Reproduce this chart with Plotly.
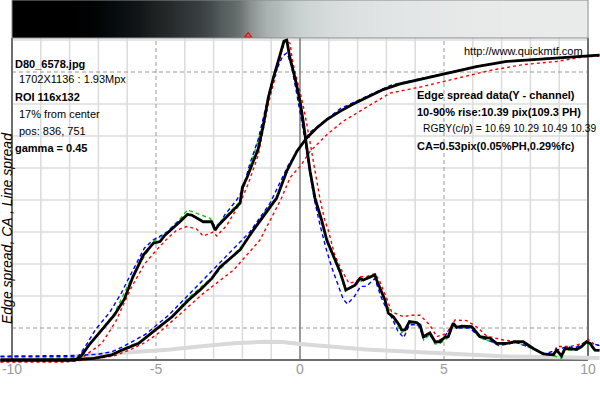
import plotly.graph_objects as go

# ---------------- data ----------------
esf_x = [-10.4, -10, -8, -7.16, -6.53, -6.18, -5.6, -5.02, -4.44, -3.87, -3.47, -3.06, -2.78, -2.08, -1.62,
         -1.16, -0.81, -0.46, -0.11, 0.23, 0.58, 0.93, 1.39, 1.85, 2.31, 2.89, 3.45, 4.28, 5.44, 6.13, 7.18,
         8.33, 9.49, 10, 10.4]
esf_y = [0, 0, 0, 0.005, 0.016, 0.031, 0.052, 0.094, 0.135, 0.1875, 0.219, 0.255, 0.29, 0.344, 0.406,
         0.463, 0.506, 0.59, 0.652, 0.694, 0.725, 0.751, 0.777, 0.8, 0.819, 0.845, 0.862, 0.879, 0.902, 0.917,
         0.933, 0.94, 0.947, 0.951, 0.953]

esf_red_x = [-10.4, -8.1, -7.5, -6.9, -6.42, -5.9, -5.37, -4.9, -4.21, -3.4, -2.31, -1.39, -0.64, -0.35, 0.0,
             0.35, 0.93, 1.5, 2.31, 3.125, 4.28, 5.44, 6.6, 7.75, 8.91, 9.84, 10.4]
esf_red_y = [-0.006, -0.006, 0.0, 0.006, 0.014, 0.032, 0.055, 0.085, 0.14, 0.205, 0.281, 0.375, 0.506, 0.569,
             0.605, 0.652, 0.704, 0.746, 0.79, 0.834, 0.855, 0.879, 0.905, 0.923, 0.933, 0.947, 0.95]

esf_blue_x = [-10.4, -7.8, -7.0, -6.53, -6.18, -5.37, -4.56, -3.63, -2.78, -1.74, -1.04, -0.4, 0.35, 1.39, 2.31,
              3.2, 4.28, 5.44, 6.13, 7.18, 8.33, 9.49, 10.4]
esf_blue_y = [0.012, 0.014, 0.018, 0.026, 0.04, 0.08, 0.14, 0.225, 0.305, 0.40, 0.49, 0.61, 0.712, 0.785,
              0.824, 0.86, 0.881, 0.903, 0.917, 0.933, 0.94, 0.947, 0.953]

esf_green_x = [-10.4, -7.2, -6.5, -6.2, -5.6, -5.0, -4.4, -3.9, -3.5, -3.0, -2.1, -1.6, -1.2, -0.8, -0.45, -0.1,
               0.25, 0.6, 0.95, 1.4, 1.85, 2.3, 2.9, 3.5, 4.3, 5.4, 6.1, 7.2, 8.3, 9.5, 10.4]
esf_green_y = [0.0, 0.006, 0.018, 0.033, 0.055, 0.097, 0.14, 0.192, 0.222, 0.262, 0.348, 0.41, 0.466, 0.51,
               0.593, 0.655, 0.697, 0.727, 0.753, 0.779, 0.802, 0.821, 0.847, 0.866, 0.881, 0.903, 0.918, 0.934,
               0.941, 0.948, 0.954]

lsf_x = [-10.4, -7.8, -7.6, -7.3, -6.94, -6.45, -6.1, -5.8, -5.44, -5.09, -4.86, -4.69, -4.17, -3.91, -3.76,
         -3.59, -3.36, -3.07, -2.95, -2.84, -2.55, -2.08, -2.0, -1.85, -1.45, -1.27, -1.1, -0.93, -0.69, -0.56,
         -0.46, -0.35, -0.17, 0.0, 0.11, 0.23, 0.35, 0.52, 0.75, 0.93, 1.16, 1.39, 1.59, 1.91, 2.08, 2.2, 2.6,
         2.66, 2.95, 3.07, 3.24, 3.45, 3.53, 3.65, 3.8, 4.05, 4.17, 4.28, 4.51, 4.69, 4.86, 5.03, 5.15, 5.32,
         5.44, 5.61, 5.96, 6.25, 6.6, 6.83, 7.18, 7.47, 7.75, 8.1, 8.45, 8.8, 8.91, 9.08, 9.2, 9.61, 9.78, 9.95,
         10.07, 10.24, 10.4]
lsf_y = [0.0, 0.0, 0.012, 0.05, 0.088, 0.14, 0.19, 0.26, 0.328, 0.365, 0.37, 0.39, 0.432, 0.455, 0.453,
         0.443, 0.432, 0.432, 0.406, 0.42, 0.448, 0.49, 0.54, 0.568, 0.66, 0.735, 0.82, 0.88, 0.954, 0.996,
         1.0, 0.944, 0.88, 0.81, 0.746, 0.67, 0.59, 0.506, 0.4375, 0.375, 0.323, 0.276, 0.219, 0.234, 0.255,
         0.25, 0.266, 0.25, 0.1875, 0.146, 0.135, 0.109, 0.094, 0.094, 0.12, 0.117, 0.109, 0.073, 0.085, 0.057,
         0.057, 0.071, 0.073, 0.115, 0.102, 0.106, 0.104, 0.073, 0.068, 0.052, 0.052, 0.057, 0.057, 0.036,
         0.019, 0.016, 0.031, 0.0125, 0.036, 0.033, 0.042, 0.057, 0.052, 0.031, 0.03]

lsf_red_x = [-10.4, -8.2, -7.6, -7.3, -6.88, -6.4, -5.9, -5.4, -4.98, -4.6, -4.28, -3.94, -3.6, -3.36, -3.01,
             -2.89, -2.55, -2.08, -1.8, -1.45, -1.1, -0.9, -0.65, -0.5, -0.35, -0.25, -0.05, 0.1, 0.25, 0.4,
             0.55, 0.7, 0.85, 1.0, 1.2, 1.45, 1.7, 1.95, 2.1, 2.3, 2.6, 2.75, 3.0, 3.18, 3.45, 3.6, 3.82, 4.17,
             4.51, 4.75, 5.09, 5.38, 5.79, 6.13, 6.48, 7.06, 7.64, 8.1, 8.45, 8.8, 8.91, 9.375, 9.84, 10.0, 10.2,
             10.4]
lsf_red_y = [-0.006, -0.006, 0.005, 0.025, 0.052, 0.12, 0.219, 0.3, 0.344, 0.38, 0.406, 0.417, 0.41, 0.3875,
             0.40, 0.3875, 0.42, 0.49, 0.55, 0.64, 0.80, 0.87, 0.96, 1.0, 0.99, 0.93, 0.86, 0.80, 0.73, 0.65,
             0.57, 0.50, 0.44, 0.40, 0.33, 0.28, 0.24, 0.245, 0.26, 0.26, 0.27, 0.25, 0.195, 0.151, 0.14, 0.135,
             0.14, 0.14, 0.109, 0.073, 0.083, 0.125, 0.123, 0.104, 0.075, 0.0625, 0.057, 0.036, 0.02, 0.018,
             0.042, 0.042, 0.052, 0.065, 0.05, 0.045]

lsf_blue_x = [-10.4, -7.7, -7.4, -7.1, -6.6, -6.2, -5.95, -5.7, -5.4, -5.1, -4.6, -4.2, -3.9, -3.6, -3.3,
              -3.05, -2.9, -2.6, -2.2, -2.0, -1.75, -1.45, -1.2, -1.0, -0.8, -0.6, -0.45, -0.3, -0.15, 0.0,
              0.15, 0.3, 0.5, 0.7, 0.9, 1.1, 1.3, 1.5, 1.65, 1.9, 2.1, 2.3, 2.6, 2.8, 3.0, 3.2, 3.4, 3.6, 3.8,
              4.1, 4.3, 4.5, 4.7, 5.0, 5.3, 5.5, 5.9, 6.25, 6.6, 6.9, 7.2, 7.5, 8.1, 8.5, 8.9, 9.2, 9.6, 9.9,
              10.2, 10.4]
lsf_blue_y = [0.01, 0.01, 0.05, 0.095, 0.15, 0.21, 0.255, 0.30, 0.35, 0.375, 0.40, 0.435, 0.455, 0.445, 0.43,
              0.43, 0.41, 0.455, 0.50, 0.53, 0.61, 0.69, 0.79, 0.86, 0.91, 0.95, 0.96, 0.92, 0.85, 0.78, 0.70,
              0.61, 0.50, 0.42, 0.35, 0.29, 0.24, 0.19, 0.175, 0.20, 0.23, 0.23, 0.255, 0.20, 0.16, 0.13, 0.09,
              0.07, 0.11, 0.11, 0.07, 0.08, 0.055, 0.07, 0.11, 0.10, 0.10, 0.07, 0.06, 0.045, 0.05, 0.055,
              0.036, 0.02, 0.03, 0.04, 0.04, 0.055, 0.05, 0.045]

lsf_green_x = [-10.4, -7.8, -7.3, -6.45, -5.8, -5.09, -4.69, -4.17, -3.91, -3.59, -3.125, -2.95, -2.55, -2.08,
               -1.85, -1.27, -0.93, -0.56, -0.46, -0.17, 0.23, 0.52, 0.93, 1.39, 1.59, 1.91, 2.2, 2.6, 2.95,
               3.24, 3.53, 3.8, 4.17, 4.3, 4.51, 4.69, 4.86, 5.15, 5.32, 5.61, 5.96, 6.25, 6.83, 7.47, 8.1,
               8.45, 8.8, 9.08, 9.2, 9.61, 9.95, 10.24, 10.4]
lsf_green_y = [0.0, 0.0, 0.05, 0.145, 0.265, 0.37, 0.395, 0.44, 0.469, 0.458, 0.443, 0.415, 0.452, 0.495,
               0.57, 0.74, 0.885, 0.99, 0.995, 0.875, 0.665, 0.5, 0.37, 0.27, 0.215, 0.232, 0.25, 0.262, 0.185,
               0.13, 0.085, 0.115, 0.105, 0.062, 0.08, 0.05, 0.052, 0.07, 0.11, 0.1, 0.1, 0.07, 0.05, 0.055,
               0.035, 0.017, 0.014, 0.005, 0.032, 0.03, 0.055, 0.03, 0.03]

grey_x = [-7.9, -7.3, -6.5, -5.2, -4.5, -3.5, -2.3, -1.2, -0.6, 0.0, 0.6, 1.2, 2.3, 3.5, 4.5, 5.5, 7.2, 8.5, 10.4]
grey_y = [0.01, 0.016, 0.02, 0.027, 0.033, 0.042, 0.052, 0.057, 0.056, 0.05, 0.045, 0.04, 0.033, 0.027, 0.022,
          0.017, 0.011, 0.009, 0.006]

edge_marker_x = [-1.8]

x_tick_vals = [-10, -5, 0, 5, 10]
x_tick_text = ["-10", "-5", "0", "5", "10"]
grid_x = [-9, -8, -7, -6, -4, -3, -2, -1, 1, 2, 3, 4, 6, 7, 8, 9]
grid_y = [0.2, 0.3, 0.4, 0.5, 0.6, 0.7, 0.8, 1.0]
dash_x = [-5, 5]
dash_y = [0.1, 0.9]

# (text, bold, font size, left px, centre py)
left_texts = [("D80_6578.jpg", True, 11, 12.5, 64), ("1702X1136 : 1.93Mpx", False, 11, 17, 79),
              ("ROI 116x132", True, 11, 12.5, 97), ("17% from center", False, 11, 17, 114),
              ("pos: 836, 751", False, 11, 17, 131), ("gamma = 0.45", True, 11, 12.5, 148)]
right_texts = [("http://www.quickmtf.com", False, 11, 462, 51),
               ("Edge spread data(Y - channel)", True, 11, 415, 95),
               ("10-90% rise:10.39 pix(109.3 PH)", True, 11, 415, 112),
               ("RGBY(c/p) = 10.69 10.29 10.49 10.39", False, 10.3, 421, 129),
               ("CA=0.53pix(0.05%PH,0.29%fc)", True, 11, 415, 146)]
y_title = "Edge spread, CA , Line spread"

# ---------------- geometry helpers ----------------
W, H = 600, 400
MB = 37
PH = H - MB          # plot height in px (plot area spans py 0..PH)


def py2y(py):        # pixel row -> main y value
    return (360 - py) / 320.0


def px2x(px):        # pixel column -> main x value
    return (px - 300) / 28.8


def ppx(px):
    return px / W


def ppy(py):
    return 1 - py / PH


FONT = "Liberation Sans, Arial, sans-serif"
fig = go.Figure()

# gradient bar (image of the edge) from the ESF values
sel = [i for i, v in enumerate(esf_x) if -10 <= v <= 10]
zrow = [esf_y[i] for i in sel]
fig.add_trace(go.Heatmap(
    x=[esf_x[i] for i in sel], y=[0, 1], z=[zrow, zrow], xaxis="x2", yaxis="y2",
    zmin=0, zmax=1, zsmooth="best", showscale=False, hoverinfo="skip",
    colorscale=[[0, "#000000"], [0.015, "#050a0c"], [0.08, "#1a1e1f"], [0.22, "#3a4042"],
                [0.325, "#606868"], [0.39, "#8a9090"], [0.463, "#aab2b2"], [0.66, "#c8d0d0"],
                [0.8, "#dce0e0"], [0.92, "#e8eaea"], [1, "#ececec"]]))
fig.add_trace(go.Scatter(x=edge_marker_x, y=[0.06], xaxis="x2", yaxis="y2", mode="markers",
                         marker=dict(symbol="triangle-up-open", color="red", size=6, line=dict(width=1.2)),
                         cliponaxis=False, hoverinfo="skip"))

# curves
fig.add_trace(go.Scatter(x=grey_x, y=grey_y, mode="lines", line=dict(color="#d9d9d9", width=4)))
for xs, ys, col, dash in [(esf_red_x, esf_red_y, "#ff0000", "3px,3px"),
                          (lsf_red_x, lsf_red_y, "#ff0000", "3px,3px"),
                          (esf_green_x, esf_green_y, "#00d000", "4px,3px"),
                          (lsf_green_x, lsf_green_y, "#00d000", "4px,3px"),
                          (esf_blue_x, esf_blue_y, "#0000ff", "4px,3px"),
                          (lsf_blue_x, lsf_blue_y, "#0000ff", "4px,3px")]:
    fig.add_trace(go.Scatter(x=xs, y=ys, mode="lines", line=dict(color=col, width=1.4, dash=dash)))
fig.add_trace(go.Scatter(x=esf_x, y=esf_y, mode="lines", line=dict(color="#000000", width=2.8)))
fig.add_trace(go.Scatter(x=lsf_x, y=lsf_y, mode="lines", line=dict(color="#000000", width=2.8)))

# grid & frame
ytop = py2y(38)
shapes = []
for gx in grid_x:
    shapes.append(dict(type="line", xref="x", yref="y", x0=gx, x1=gx, y0=0, y1=ytop,
                       line=dict(color="#dcdcdc", width=1.5), layer="below"))
for gy in grid_y:
    shapes.append(dict(type="line", xref="x", yref="y", x0=-10, x1=10, y0=gy, y1=gy,
                       line=dict(color="#dcdcdc", width=1.5), layer="below"))
for gx in dash_x:
    shapes.append(dict(type="line", xref="x", yref="y", x0=gx, x1=gx, y0=0, y1=ytop,
                       line=dict(color="#999999", width=1, dash="4px,3px"), layer="below"))
for gy in dash_y:
    shapes.append(dict(type="line", xref="x", yref="y", x0=-10, x1=10, y0=gy, y1=gy,
                       line=dict(color="#999999", width=1, dash="4px,3px"), layer="below"))
shapes.append(dict(type="line", xref="x", yref="y", x0=0, x1=0, y0=0, y1=ytop,
                   line=dict(color="#7a7a7a", width=1.5), layer="below"))
for fx in (-10, 10):
    shapes.append(dict(type="line", xref="x", yref="y", x0=fx, x1=fx, y0=0, y1=ytop,
                       line=dict(color="#6e6e6e", width=2), layer="below"))
shapes.append(dict(type="line", xref="x", yref="y", x0=-10, x1=10, y0=0, y1=0,
                   line=dict(color="#6e6e6e", width=2), layer="below"))
shapes.append(dict(type="rect", xref="x2 domain", yref="y2 domain", x0=0, x1=1, y0=0, y1=1,
                   line=dict(color="#8a8a8a", width=1)))

annotations = []
for txt, bold, fs, px, py in left_texts + right_texts:
    annotations.append(dict(text=txt, xref="paper", yref="paper", x=ppx(px), y=ppy(py),
                            xanchor="left", yanchor="middle", showarrow=False,
                            font=dict(family=FONT, size=fs, color="#000000",
                                      weight="bold" if bold else "normal")))
annotations.append(dict(text=y_title, xref="paper", yref="paper", x=ppx(7), y=ppy(228),
                        textangle=-90, xanchor="center", yanchor="middle", showarrow=False,
                        font=dict(family=FONT, size=14, color="#000000", style="italic")))

fig.update_layout(
    width=W, height=H, margin=dict(l=0, r=0, t=0, b=MB, pad=0),
    paper_bgcolor="white", plot_bgcolor="white", showlegend=False,
    xaxis=dict(domain=[0, 1], range=[px2x(0), px2x(600)], showgrid=False, zeroline=False,
               tickvals=x_tick_vals, ticktext=x_tick_text, ticks="", showline=False,
               ticklabelstandoff=-4,
               tickfont=dict(family=FONT, size=14, color="#9a9a9a")),
    yaxis=dict(domain=[0, ppy(38)], range=[py2y(PH), py2y(38)], showgrid=False, zeroline=False,
               showticklabels=False, ticks="", showline=False),
    xaxis2=dict(domain=[ppx(12), ppx(588)], range=[-10, 10], anchor="y2", visible=False),
    yaxis2=dict(domain=[ppy(38), 1], range=[0, 1], anchor="x2", visible=False),
    shapes=shapes, annotations=annotations,
)

fig.write_html("out.html")
